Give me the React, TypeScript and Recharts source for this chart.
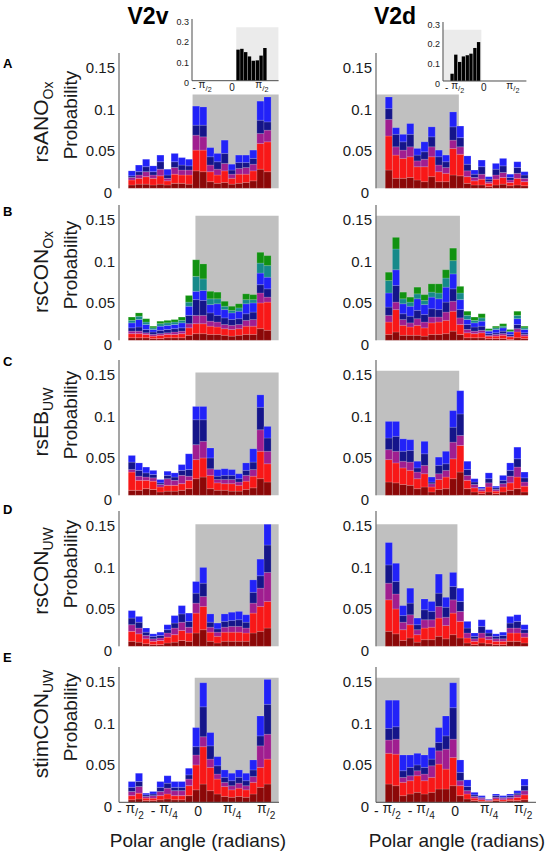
import { BarChart, Bar, XAxis, YAxis, ReferenceArea } from 'recharts';

// Stacked polar-angle histograms: V2v (left) and V2d (right), five conditions.
// x is in bin units: bin i covers [i, i+1], 20 bins spanning -pi/2 .. pi/2.

const BINS = [0.5, 1.5, 2.5, 3.5, 4.5, 5.5, 6.5, 7.5, 8.5, 9.5, 10.5, 11.5, 12.5, 13.5, 14.5, 15.5, 16.5, 17.5, 18.5, 19.5];
const ANGLE_TICKS = [0.5, 5.25, 10, 14.75, 19.5];
const ANGLE_LABELS = ['-π/2', '-π/4', '0', 'π/4', 'π/2'];
const PROB_TICKS = [0, 0.05, 0.1, 0.15];
const ROW_NAMES = ['rsANO', 'rsCON', 'rsEB', 'rsCON', 'stimCON'];
const ROW_SUBS = ['Ox', 'Ox', 'UW', 'UW', 'UW'];
const PANEL_LETTERS = ['A', 'B', 'C', 'D', 'E'];

// A  rsANO Ox
const ANO_V2V_MAROON = [0.004, 0.005, 0.005, 0.004, 0.005, 0.004, 0.006, 0.006, 0.005, 0.021, 0.020, 0.008, 0.006, 0.007, 0.005, 0.006, 0.007, 0.009, 0.023, 0.020];
const ANO_V2V_RED = [0.006, 0.007, 0.009, 0.008, 0.010, 0.005, 0.011, 0.010, 0.011, 0.025, 0.026, 0.012, 0.010, 0.014, 0.007, 0.011, 0.010, 0.012, 0.031, 0.036];
const ANO_V2V_MAGENTA = [0.003, 0.004, 0.006, 0.004, 0.008, 0.003, 0.008, 0.006, 0.006, 0.018, 0.016, 0.008, 0.007, 0.009, 0.005, 0.007, 0.008, 0.008, 0.012, 0.014];
const ANO_V2V_NAVY = [0.002, 0.004, 0.006, 0.004, 0.009, 0.004, 0.007, 0.006, 0.005, 0.012, 0.014, 0.010, 0.009, 0.012, 0.005, 0.007, 0.006, 0.007, 0.016, 0.010];
const ANO_V2V_BLUE = [0.006, 0.008, 0.009, 0.007, 0.008, 0.007, 0.010, 0.009, 0.008, 0.023, 0.022, 0.011, 0.010, 0.016, 0.007, 0.009, 0.009, 0.010, 0.023, 0.030];

const ANO_V2D_MAROON = [0.022, 0.012, 0.012, 0.013, 0.010, 0.008, 0.014, 0.008, 0.008, 0.016, 0.015, 0.006, 0.004, 0.004, 0.002, 0.004, 0.005, 0.003, 0.004, 0.003];
const ANO_V2D_RED = [0.041, 0.028, 0.024, 0.025, 0.016, 0.018, 0.024, 0.012, 0.010, 0.032, 0.026, 0.008, 0.005, 0.007, 0.004, 0.007, 0.008, 0.004, 0.008, 0.005];
const ANO_V2D_MAGENTA = [0.020, 0.010, 0.010, 0.012, 0.007, 0.009, 0.012, 0.008, 0.007, 0.010, 0.009, 0.007, 0.004, 0.006, 0.002, 0.005, 0.006, 0.003, 0.006, 0.004];
const ANO_V2D_NAVY = [0.013, 0.015, 0.010, 0.015, 0.007, 0.009, 0.012, 0.010, 0.007, 0.016, 0.011, 0.008, 0.004, 0.009, 0.003, 0.007, 0.008, 0.003, 0.007, 0.004];
const ANO_V2D_BLUE = [0.014, 0.008, 0.009, 0.013, 0.008, 0.012, 0.012, 0.008, 0.008, 0.018, 0.014, 0.010, 0.005, 0.008, 0.003, 0.007, 0.009, 0.004, 0.007, 0.004];

// B  rsCON Ox (extra teal / green subjects on top)
const CONOX_V2V_MAROON = [0.003, 0.003, 0.003, 0.002, 0.002, 0.003, 0.003, 0.003, 0.006, 0.008, 0.008, 0.007, 0.007, 0.006, 0.005, 0.006, 0.007, 0.007, 0.014, 0.012];
const CONOX_V2V_RED = [0.005, 0.005, 0.004, 0.003, 0.004, 0.004, 0.004, 0.005, 0.009, 0.012, 0.012, 0.010, 0.009, 0.008, 0.008, 0.008, 0.010, 0.010, 0.031, 0.034];
const CONOX_V2V_MAGENTA = [0.003, 0.003, 0.002, 0.002, 0.002, 0.002, 0.003, 0.003, 0.005, 0.010, 0.010, 0.006, 0.006, 0.005, 0.005, 0.005, 0.007, 0.008, 0.012, 0.006];
const CONOX_V2V_NAVY = [0.004, 0.005, 0.004, 0.003, 0.004, 0.004, 0.004, 0.004, 0.010, 0.019, 0.018, 0.010, 0.008, 0.008, 0.007, 0.007, 0.008, 0.009, 0.010, 0.010];
const CONOX_V2V_BLUE = [0.006, 0.009, 0.006, 0.003, 0.005, 0.005, 0.005, 0.006, 0.011, 0.010, 0.012, 0.010, 0.014, 0.010, 0.008, 0.009, 0.012, 0.011, 0.014, 0.014];
const CONOX_V2V_TEAL = [0.003, 0.004, 0.003, 0.002, 0.003, 0.003, 0.003, 0.003, 0.005, 0.018, 0.014, 0.007, 0.006, 0.004, 0.003, 0.004, 0.005, 0.004, 0.012, 0.014];
const CONOX_V2V_GREEN = [0.004, 0.004, 0.004, 0.002, 0.003, 0.003, 0.003, 0.004, 0.008, 0.020, 0.018, 0.009, 0.008, 0.006, 0.005, 0.005, 0.007, 0.006, 0.013, 0.012];

const CONOX_V2D_MAROON = [0.007, 0.010, 0.006, 0.006, 0.006, 0.005, 0.007, 0.007, 0.008, 0.011, 0.007, 0.003, 0.003, 0.003, 0.002, 0.002, 0.002, 0.001, 0.003, 0.002];
const CONOX_V2D_RED = [0.015, 0.027, 0.012, 0.010, 0.012, 0.010, 0.014, 0.015, 0.016, 0.024, 0.012, 0.006, 0.005, 0.006, 0.003, 0.003, 0.004, 0.003, 0.007, 0.003];
const CONOX_V2D_MAGENTA = [0.008, 0.009, 0.007, 0.005, 0.008, 0.007, 0.007, 0.006, 0.010, 0.012, 0.008, 0.004, 0.003, 0.003, 0.001, 0.002, 0.002, 0.001, 0.004, 0.002];
const CONOX_V2D_NAVY = [0.010, 0.020, 0.007, 0.008, 0.010, 0.009, 0.010, 0.009, 0.012, 0.015, 0.010, 0.006, 0.005, 0.005, 0.002, 0.002, 0.003, 0.002, 0.005, 0.002];
const CONOX_V2D_BLUE = [0.017, 0.019, 0.012, 0.012, 0.014, 0.012, 0.014, 0.013, 0.018, 0.018, 0.012, 0.006, 0.005, 0.006, 0.003, 0.004, 0.004, 0.003, 0.007, 0.004];
const CONOX_V2D_TEAL = [0.015, 0.025, 0.006, 0.005, 0.006, 0.005, 0.006, 0.007, 0.011, 0.016, 0.008, 0.005, 0.003, 0.004, 0.001, 0.002, 0.002, 0.001, 0.004, 0.002];
const CONOX_V2D_GREEN = [0.010, 0.014, 0.008, 0.006, 0.008, 0.007, 0.010, 0.011, 0.010, 0.015, 0.008, 0.005, 0.004, 0.005, 0.002, 0.002, 0.003, 0.002, 0.005, 0.002];

// C  rsEB UW
const EB_V2V_MAROON = [0.006, 0.006, 0.008, 0.007, 0.004, 0.005, 0.005, 0.006, 0.008, 0.020, 0.022, 0.008, 0.006, 0.006, 0.005, 0.005, 0.007, 0.009, 0.020, 0.016];
const EB_V2V_RED = [0.022, 0.012, 0.010, 0.010, 0.006, 0.007, 0.007, 0.008, 0.010, 0.023, 0.023, 0.016, 0.009, 0.008, 0.009, 0.007, 0.010, 0.014, 0.033, 0.022];
const EB_V2V_MAGENTA = [0.003, 0.005, 0.004, 0.004, 0.003, 0.008, 0.006, 0.010, 0.005, 0.018, 0.020, 0.008, 0.004, 0.005, 0.005, 0.004, 0.007, 0.008, 0.026, 0.015];
const EB_V2V_NAVY = [0.009, 0.007, 0.005, 0.004, 0.002, 0.004, 0.004, 0.006, 0.008, 0.030, 0.026, 0.013, 0.004, 0.005, 0.005, 0.004, 0.006, 0.009, 0.027, 0.016];
const EB_V2V_BLUE = [0.008, 0.009, 0.007, 0.005, 0.004, 0.005, 0.005, 0.007, 0.019, 0.016, 0.016, 0.012, 0.008, 0.008, 0.007, 0.006, 0.009, 0.016, 0.015, 0.014];

const EB_V2D_MAROON = [0.016, 0.015, 0.013, 0.012, 0.008, 0.010, 0.004, 0.007, 0.008, 0.020, 0.028, 0.008, 0.004, 0.002, 0.004, 0.002, 0.004, 0.006, 0.008, 0.004];
const EB_V2D_RED = [0.027, 0.024, 0.020, 0.018, 0.012, 0.016, 0.006, 0.012, 0.014, 0.024, 0.032, 0.010, 0.005, 0.003, 0.006, 0.003, 0.006, 0.009, 0.014, 0.007];
const EB_V2D_MAGENTA = [0.012, 0.014, 0.008, 0.010, 0.008, 0.010, 0.004, 0.007, 0.008, 0.020, 0.012, 0.006, 0.004, 0.002, 0.005, 0.002, 0.004, 0.008, 0.012, 0.005];
const EB_V2D_NAVY = [0.014, 0.018, 0.012, 0.014, 0.005, 0.014, 0.002, 0.010, 0.008, 0.018, 0.026, 0.007, 0.003, 0.001, 0.005, 0.002, 0.004, 0.007, 0.010, 0.005];
const EB_V2D_BLUE = [0.020, 0.018, 0.015, 0.013, 0.008, 0.015, 0.006, 0.010, 0.015, 0.020, 0.028, 0.010, 0.004, 0.002, 0.007, 0.002, 0.006, 0.009, 0.014, 0.007];

// D  rsCON UW
const CONUW_V2V_MAROON = [0.006, 0.005, 0.003, 0.002, 0.002, 0.004, 0.005, 0.007, 0.006, 0.016, 0.020, 0.006, 0.004, 0.006, 0.006, 0.006, 0.006, 0.016, 0.018, 0.022];
const CONUW_V2V_RED = [0.012, 0.010, 0.006, 0.004, 0.005, 0.007, 0.009, 0.012, 0.010, 0.024, 0.028, 0.011, 0.008, 0.011, 0.011, 0.011, 0.010, 0.024, 0.030, 0.032];
const CONUW_V2V_MAGENTA = [0.008, 0.007, 0.004, 0.003, 0.003, 0.005, 0.008, 0.010, 0.007, 0.012, 0.012, 0.006, 0.005, 0.006, 0.007, 0.007, 0.006, 0.012, 0.022, 0.035];
const CONUW_V2V_NAVY = [0.008, 0.007, 0.004, 0.003, 0.003, 0.004, 0.006, 0.010, 0.007, 0.012, 0.016, 0.006, 0.004, 0.007, 0.007, 0.008, 0.007, 0.013, 0.015, 0.033];
const CONUW_V2V_BLUE = [0.009, 0.007, 0.005, 0.003, 0.004, 0.006, 0.009, 0.010, 0.010, 0.014, 0.019, 0.010, 0.007, 0.009, 0.010, 0.010, 0.009, 0.015, 0.020, 0.025];

const CONUW_V2D_MAROON = [0.018, 0.015, 0.007, 0.010, 0.005, 0.008, 0.008, 0.012, 0.009, 0.014, 0.010, 0.004, 0.002, 0.004, 0.003, 0.002, 0.002, 0.006, 0.006, 0.004];
const CONUW_V2D_RED = [0.038, 0.030, 0.013, 0.016, 0.009, 0.014, 0.015, 0.022, 0.016, 0.026, 0.020, 0.006, 0.004, 0.006, 0.005, 0.004, 0.004, 0.010, 0.010, 0.007];
const CONUW_V2D_MAGENTA = [0.020, 0.018, 0.009, 0.012, 0.006, 0.010, 0.009, 0.014, 0.010, 0.016, 0.012, 0.006, 0.003, 0.006, 0.004, 0.003, 0.003, 0.006, 0.006, 0.005];
const CONUW_V2D_NAVY = [0.022, 0.015, 0.008, 0.014, 0.006, 0.012, 0.010, 0.016, 0.012, 0.016, 0.012, 0.006, 0.003, 0.008, 0.004, 0.003, 0.004, 0.006, 0.008, 0.004];
const CONUW_V2D_BLUE = [0.027, 0.022, 0.012, 0.018, 0.008, 0.013, 0.012, 0.023, 0.012, 0.017, 0.016, 0.008, 0.004, 0.008, 0.004, 0.003, 0.004, 0.008, 0.008, 0.006];

// E  stimCON UW
const STIM_V2V_MAROON = [0.003, 0.004, 0.002, 0.002, 0.003, 0.004, 0.003, 0.003, 0.008, 0.015, 0.022, 0.014, 0.010, 0.007, 0.006, 0.007, 0.006, 0.010, 0.018, 0.022];
const STIM_V2V_RED = [0.005, 0.007, 0.003, 0.003, 0.005, 0.006, 0.005, 0.005, 0.012, 0.030, 0.045, 0.028, 0.018, 0.012, 0.009, 0.010, 0.009, 0.014, 0.024, 0.030];
const STIM_V2V_MAGENTA = [0.005, 0.008, 0.002, 0.003, 0.005, 0.007, 0.006, 0.006, 0.008, 0.012, 0.012, 0.010, 0.006, 0.005, 0.005, 0.006, 0.005, 0.007, 0.026, 0.030];
const STIM_V2V_NAVY = [0.005, 0.006, 0.002, 0.002, 0.005, 0.006, 0.004, 0.004, 0.005, 0.010, 0.036, 0.016, 0.010, 0.006, 0.006, 0.007, 0.006, 0.008, 0.012, 0.036];
const STIM_V2V_BLUE = [0.007, 0.010, 0.002, 0.003, 0.007, 0.009, 0.007, 0.007, 0.008, 0.023, 0.029, 0.016, 0.011, 0.009, 0.009, 0.009, 0.009, 0.012, 0.024, 0.030];

const STIM_V2D_MAROON = [0.022, 0.020, 0.008, 0.010, 0.012, 0.010, 0.012, 0.016, 0.016, 0.020, 0.008, 0.004, 0.002, 0.001, 0.001, 0.002, 0.001, 0.002, 0.002, 0.003];
const STIM_V2D_RED = [0.037, 0.038, 0.016, 0.016, 0.020, 0.016, 0.018, 0.030, 0.024, 0.034, 0.012, 0.006, 0.003, 0.002, 0.001, 0.002, 0.002, 0.002, 0.004, 0.006];
const STIM_V2D_MAGENTA = [0.016, 0.018, 0.006, 0.006, 0.006, 0.008, 0.014, 0.016, 0.024, 0.022, 0.006, 0.004, 0.002, 0.002, 0.001, 0.002, 0.002, 0.002, 0.003, 0.005];
const STIM_V2D_NAVY = [0.014, 0.015, 0.008, 0.010, 0.007, 0.008, 0.008, 0.010, 0.016, 0.038, 0.010, 0.005, 0.002, 0.001, 0.0005, 0.002, 0.001, 0.002, 0.002, 0.006];
const STIM_V2D_BLUE = [0.034, 0.032, 0.019, 0.015, 0.014, 0.015, 0.014, 0.018, 0.024, 0.030, 0.015, 0.008, 0.003, 0.002, 0.0005, 0.002, 0.002, 0.002, 0.003, 0.008];

// grey band: [edge in bin units, top probability] per row
const SHADE_V2V = [[9.0, 0.113], [9.4, 0.15], [9.4, 0.148], [9.4, 0.147], [9.3, 0.15]];
const SHADE_V2D = [[10.3, 0.113], [10.45, 0.15], [10.35, 0.15], [10.1, 0.147], [10.4, 0.15]];

// insets (row A): overall angle distribution
const INSET_V2V_X = [0.33, 0.53, 0.73, 0.93, 1.13, 1.34, 1.54, 1.74];
const INSET_V2V_P = [0.151, 0.155, 0.139, 0.118, 0.097, 0.099, 0.122, 0.159];
const INSET_V2D_X = [-1.70, -1.50, -1.29, -1.09, -0.88, -0.68, -0.47, -0.27];
const INSET_V2D_P = [0.037, 0.134, 0.097, 0.125, 0.131, 0.139, 0.168, 0.198];
const INSET_TICKS = [-Math.PI / 2, 0, Math.PI / 2];
const INSET_P_TICKS = [0, 0.1, 0.2, 0.3];

const COLORS: Record<string, string> = {
  maroon: '#8c0808',
  red: '#f81818',
  magenta: '#a01e90',
  navy: '#15158a',
  blue: '#2222f8',
  teal: '#168a8a',
  green: '#119211',
};

const FONT = '"Liberation Sans", Arial, Helvetica, sans-serif';
const TXT = '#1a1a1a';
const AXIS = '#4a4a4a';
const SHADE = '#c0c0c0';

const PLOT_W = 160;
const PLOT_H = 135.3;
const Y_W = 50;
const X_DOMAIN = [-1.3, 21.1];
const Y_MAX = 0.163;
const ROW_BASE = [188.3, 340, 495, 646, 802];
const COL_AXIS = [119, 376];
const LETTER_Y = [68, 216, 366, 514, 662];

const V2V_LAYERS = [
  { maroon: ANO_V2V_MAROON, red: ANO_V2V_RED, magenta: ANO_V2V_MAGENTA, navy: ANO_V2V_NAVY, blue: ANO_V2V_BLUE },
  { maroon: CONOX_V2V_MAROON, red: CONOX_V2V_RED, magenta: CONOX_V2V_MAGENTA, navy: CONOX_V2V_NAVY, blue: CONOX_V2V_BLUE, teal: CONOX_V2V_TEAL, green: CONOX_V2V_GREEN },
  { maroon: EB_V2V_MAROON, red: EB_V2V_RED, magenta: EB_V2V_MAGENTA, navy: EB_V2V_NAVY, blue: EB_V2V_BLUE },
  { maroon: CONUW_V2V_MAROON, red: CONUW_V2V_RED, magenta: CONUW_V2V_MAGENTA, navy: CONUW_V2V_NAVY, blue: CONUW_V2V_BLUE },
  { maroon: STIM_V2V_MAROON, red: STIM_V2V_RED, magenta: STIM_V2V_MAGENTA, navy: STIM_V2V_NAVY, blue: STIM_V2V_BLUE },
];
const V2D_LAYERS = [
  { maroon: ANO_V2D_MAROON, red: ANO_V2D_RED, magenta: ANO_V2D_MAGENTA, navy: ANO_V2D_NAVY, blue: ANO_V2D_BLUE },
  { maroon: CONOX_V2D_MAROON, red: CONOX_V2D_RED, magenta: CONOX_V2D_MAGENTA, navy: CONOX_V2D_NAVY, blue: CONOX_V2D_BLUE, teal: CONOX_V2D_TEAL, green: CONOX_V2D_GREEN },
  { maroon: EB_V2D_MAROON, red: EB_V2D_RED, magenta: EB_V2D_MAGENTA, navy: EB_V2D_NAVY, blue: EB_V2D_BLUE },
  { maroon: CONUW_V2D_MAROON, red: CONUW_V2D_RED, magenta: CONUW_V2D_MAGENTA, navy: CONUW_V2D_NAVY, blue: CONUW_V2D_BLUE },
  { maroon: STIM_V2D_MAROON, red: STIM_V2D_RED, magenta: STIM_V2D_MAGENTA, navy: STIM_V2D_NAVY, blue: STIM_V2D_BLUE },
];

// "-π/2" style label: pi raised, denominator lowered
function PiText({ x, y, label, size }: { x: number; y: number; label: string; size: number }) {
  if (label === '0') {
    return (
      <text x={x} y={y} textAnchor="middle" fontSize={size} fill={TXT} fontFamily={FONT}>0</text>
    );
  }
  const neg = label.startsWith('-');
  const den = label.slice(-1);
  return (
    <text x={x} y={y} textAnchor="middle" fontSize={size} fill={TXT} fontFamily={FONT}>
      {neg ? '- ' : ''}
      <tspan dy={-size * 0.22}>π</tspan>
      <tspan dy={size * 0.22} fontSize={size * 0.8}>/</tspan>
      <tspan dy={size * 0.18} fontSize={size * 0.72}>{den}</tspan>
    </text>
  );
}

function AngleTick(props: any) {
  const i = ANGLE_TICKS.indexOf(props.payload.value);
  return <PiText x={props.x - 1.5} y={props.y + 14} label={ANGLE_LABELS[i]} size={14} />;
}

function ProbTick(props: any) {
  const v = props.payload.value;
  return (
    <text x={props.x - (v === 0 ? 3 : 0)} y={props.y + 9.5} textAnchor="end" fontSize={15} fill={TXT} fontFamily={FONT}>
      {String(v)}
    </text>
  );
}

function InsetAngleTick(props: any) {
  const v = props.payload.value;
  const label = v < 0 ? '-π/2' : v > 0 ? 'π/2' : '0';
  return <PiText x={props.x} y={props.y + 10} label={label} size={10} />;
}

function InsetProbTick(props: any) {
  return (
    <text x={props.x} y={props.y + 5.8} textAnchor="end" fontSize={9} fill={TXT} fontFamily={FONT}>
      {String(props.payload.value)}
    </text>
  );
}

function Panel({ row, col }: { row: number; col: number }) {
  const layers: Record<string, number[]> = (col === 0 ? V2V_LAYERS : V2D_LAYERS)[row];
  const keys = Object.keys(layers);
  const data = BINS.map((x, i) => {
    const r: Record<string, number> = { x };
    keys.forEach((k) => (r[k] = layers[k][i]));
    return r;
  });
  const shade = (col === 0 ? SHADE_V2V : SHADE_V2D)[row];
  const x1 = col === 0 ? shade[0] : -1.25;
  const x2 = col === 0 ? 21.05 : shade[0];
  const last = row === 4;
  const xH = last ? 26 : 0;
  const padB = last ? 0 : 14;
  return (
    <div style={{ position: 'absolute', left: COL_AXIS[col] - Y_W, top: ROW_BASE[row] - PLOT_H }}>
      <BarChart
        width={Y_W + PLOT_W + 14}
        height={PLOT_H + xH + padB}
        data={data}
        margin={{ top: 0, right: 14, bottom: padB, left: 0 }}
        barGap={0}
        barCategoryGap={0}
      >
        <XAxis
          type="number"
          dataKey="x"
          domain={X_DOMAIN}
          ticks={ANGLE_TICKS}
          interval={0}
          height={xH}
          axisLine={{ stroke: AXIS }}
          tickLine={false}
          tickSize={0}
          tickMargin={0}
          tick={last ? (p: any) => <AngleTick {...p} /> : false}
        />
        <YAxis
          type="number"
          domain={[0, Y_MAX]}
          ticks={PROB_TICKS}
          interval={0}
          width={Y_W}
          axisLine={{ stroke: AXIS }}
          tickLine={false}
          tickSize={0}
          tickMargin={4}
          tick={(p: any) => <ProbTick {...p} />}
        />
        <ReferenceArea x1={x1} x2={x2} y1={0} y2={shade[1]} fill={SHADE} fillOpacity={1} stroke="none" />
        {keys.map((k) => (
          <Bar
            key={k}
            dataKey={k}
            stackId="hist"
            fill={COLORS[k]}
            barSize={7.1}
            stroke="#ffffff"
            strokeOpacity={0.3}
            strokeWidth={0.5}
            isAnimationActive={false}
          />
        ))}
      </BarChart>
    </div>
  );
}

function Inset({ left, top, width, height, domain, xs, ps, shadeX }: any) {
  const data = xs.map((x: number, i: number) => ({ x, p: ps[i] }));
  const padT = 6;
  return (
    <div style={{ position: 'absolute', left: left - 22, top: top - padT }}>
      <BarChart width={22 + width + 10} height={height + 16 + padT} data={data} margin={{ top: padT, right: 10, bottom: 0, left: 0 }}>
        <XAxis
          type="number"
          dataKey="x"
          domain={domain}
          ticks={INSET_TICKS}
          interval={0}
          height={16}
          axisLine={{ stroke: AXIS }}
          tickLine={false}
          tickSize={0}
          tickMargin={0}
          tick={(p: any) => <InsetAngleTick {...p} />}
        />
        <YAxis
          type="number"
          domain={[0, 0.3]}
          ticks={INSET_P_TICKS}
          interval={0}
          width={22}
          axisLine={{ stroke: AXIS }}
          tickLine={false}
          tickSize={0}
          tickMargin={3}
          tick={(p: any) => <InsetProbTick {...p} />}
        />
        <ReferenceArea x1={shadeX[0]} x2={shadeX[1]} y1={0} y2={0.26} fill="#ebebeb" fillOpacity={1} stroke="none" />
        <Bar dataKey="p" fill="#000000" barSize={3.9} isAnimationActive={false} />
      </BarChart>
    </div>
  );
}

export default function App() {
  const rowMid = [120, 270, 420, 569, 722];
  return (
    <div style={{ position: 'absolute', left: 0, top: 0, width: 546, height: 852, background: '#fff', overflow: 'hidden', fontFamily: FONT }}>
      <svg width={546} height={852} style={{ position: 'absolute', left: 0, top: 0 }}>
        <text x={148} y={24} textAnchor="middle" fontSize={23} fontWeight="bold" fill="#000">V2v</text>
        <text x={395} y={24} textAnchor="middle" fontSize={23} fontWeight="bold" fill="#000">V2d</text>
        {PANEL_LETTERS.map((l, i) => (
          <text key={l} x={3} y={LETTER_Y[i]} fontSize={13} fontWeight="bold" fill="#000">{l}</text>
        ))}
        {ROW_NAMES.map((n, i) => (
          <text key={i} transform={`translate(48,${rowMid[i] + 2}) rotate(-90)`} textAnchor="middle" fontSize={21} fill={TXT}>
            {n}
            <tspan fontSize={14} dy={5}>{ROW_SUBS[i]}</tspan>
          </text>
        ))}
        {ROW_NAMES.map((_, i) => (
          <text key={'p' + i} transform={`translate(77,${rowMid[i] - 5}) rotate(-90)`} textAnchor="middle" fontSize={19} fill={TXT}>
            Probability
          </text>
        ))}
        <text x={198} y={847} textAnchor="middle" fontSize={19} fill={TXT}>Polar angle (radians)</text>
        <text x={457} y={847} textAnchor="middle" fontSize={19} fill={TXT}>Polar angle (radians)</text>
      </svg>
      {[0, 1, 2, 3, 4].map((r) => (
        <div key={r}>
          <Panel row={r} col={0} />
          <Panel row={r} col={1} />
        </div>
      ))}
      <Inset left={191.7} top={19.3} width={86.6} height={61.7} domain={[-2.1, 2.45]} xs={INSET_V2V_X} ps={INSET_V2V_P} shadeX={[0.227, 2.44]} />
      <Inset left={443.3} top={21.7} width={83.4} height={59} domain={[-2.2, 2.3]} xs={INSET_V2D_X} ps={INSET_V2D_P} shadeX={[-2.19, -0.13]} />
    </div>
  );
}
